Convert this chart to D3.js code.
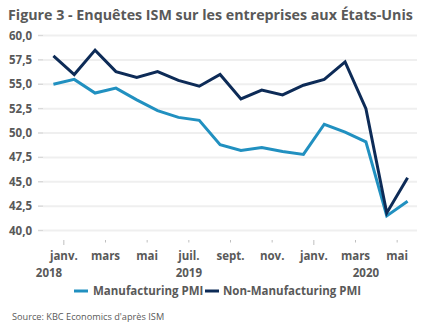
<!DOCTYPE html>
<html><head><meta charset="utf-8">
<script src="https://cdn.jsdelivr.net/npm/d3@7"></script>
<style>
html,body{margin:0;padding:0;background:#fff;}
svg{display:block;font-family:"Open Sans",sans-serif;}
</style></head>
<body>
<svg id="c" width="432" height="334"></svg>
<script>
const months = ["déc. 2018","janv. 2019","févr. 2019","mars 2019","avr. 2019","mai 2019","juin 2019","juil. 2019","août 2019","sept. 2019","oct. 2019","nov. 2019","déc. 2019","janv. 2020","févr. 2020","mars 2020","avr. 2020","mai 2020"];
const manufacturing = [55.0,55.5,54.1,54.6,53.4,52.3,51.6,51.3,48.8,48.2,48.5,48.1,47.8,50.9,50.1,49.1,41.5,43.0];
const nonManufacturing = [57.9,56.0,58.5,56.3,55.7,56.3,55.4,54.8,56.0,53.5,54.4,53.9,54.9,55.5,57.3,52.5,41.8,45.4];
const tickLabels = ["janv.","mars","mai","juil.","sept.","nov.","janv.","mars","mai"];
const yearLabels = ["2018","2019","2020"];
const yTicks = [40,42.5,45,47.5,50,52.5,55,57.5,60];
const seriesNames = ["Manufacturing PMI","Non-Manufacturing PMI"];

const svg = d3.select("#c");
const textCol = "#595959";
const colM = "#2190c0", colN = "#0d2b57";
const fr = d3.formatLocale({decimal:",",thousands:" ",grouping:[3],currency:["","€"]});
const fmt = fr.format(".1f");

const x = d3.scaleBand().domain(d3.range(months.length)).range([43,418]);
const cx = i => x(i) + x.bandwidth()/2;
const y = d3.scaleLinear().domain([40,60]).range([230.5,35.5]);

// title (fit to reference width)
const title = svg.append("text").attr("x",8).attr("y",20).attr("fill",textCol)
  .attr("font-size",15).attr("font-weight",700)
  .text("Figure 3 - Enquêtes ISM sur les entreprises aux États-Unis");
const tw = title.node().getComputedTextLength();
title.attr("font-size", 15*405/tw);

// gridlines
const g = svg.append("g");
yTicks.forEach(t=>{
  g.append("line").attr("x1",43).attr("x2",417).attr("y1",y(t)).attr("y2",y(t))
    .attr("stroke","#efefef").attr("stroke-width",2);
  g.append("line").attr("x1",38).attr("x2",43).attr("y1",y(t)).attr("y2",y(t))
    .attr("stroke","#d9d9d9").attr("stroke-width",1.5);
  g.append("text").attr("x",32).attr("y",y(t)).attr("dy","0.35em")
    .attr("text-anchor","end").attr("fill",textCol).attr("font-size",11.5).attr("font-weight",700)
    .text(fmt(t));
});

// x ticks & labels
tickLabels.forEach((lab,j)=>{
  const k = 1 + 2*j;
  const xx = x(k);
  const long = (lab==="janv.");
  g.append("line").attr("x1",xx).attr("x2",xx).attr("y1",240).attr("y2",long?245:242.5)
    .attr("stroke","#bfbfbf").attr("stroke-width",1);
  g.append("text").attr("x",xx).attr("y",260).attr("text-anchor","middle")
    .attr("fill",textCol).attr("font-size",11.5).attr("font-weight",700).text(lab);
});
const yearPos = [x(0)+6, x(7), cx(15)];
yearLabels.forEach((lab,j)=>{
  g.append("text").attr("x",yearPos[j]).attr("y",277).attr("text-anchor","middle")
    .attr("fill",textCol).attr("font-size",11.5).attr("font-weight",700).text(lab);
});

// lines
const line = d3.line().x((d,i)=>cx(i)).y(d=>y(d));
svg.append("path").datum(manufacturing).attr("d",line).attr("fill","none")
  .attr("stroke",colM).attr("stroke-width",3).attr("stroke-linejoin","miter");
svg.append("path").datum(nonManufacturing).attr("d",line).attr("fill","none")
  .attr("stroke",colN).attr("stroke-width",3).attr("stroke-linejoin","miter");

// legend
const lg = svg.append("g");
[[74,93,colM],[205,223,colN]].forEach((p,j)=>{
  lg.append("line").attr("x1",p[0]).attr("x2",p[0]+14).attr("y1",291).attr("y2",291)
    .attr("stroke",p[2]).attr("stroke-width",3);
  lg.append("text").attr("x",p[1]).attr("y",291).attr("dy","0.35em").attr("fill",textCol)
    .attr("font-size",11.5).attr("font-weight",700).text(seriesNames[j]);
});

// source
svg.append("text").attr("x",12).attr("y",320).attr("fill",textCol)
  .attr("font-size",9.2).text("Source: KBC Economics d'après ISM");
</script>
</body></html>
